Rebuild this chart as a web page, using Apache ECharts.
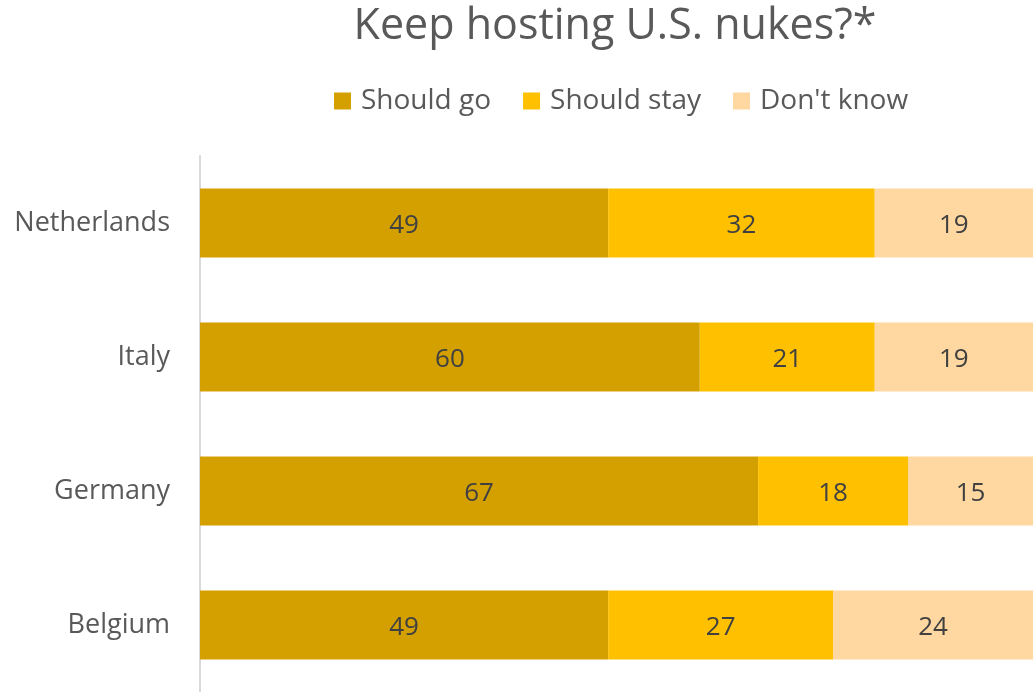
<!DOCTYPE html>
<html><head><meta charset="utf-8">
<script src="https://cdn.jsdelivr.net/npm/echarts@6/dist/echarts.min.js"></script>
<style>html,body{margin:0;padding:0;background:#fff}#c{width:1033px;height:692px}</style>
</head><body><div id="c"></div>
<script>
const categories = ['Netherlands', 'Italy', 'Germany', 'Belgium'];
const shouldGo = [49, 60, 67, 49];
const shouldStay = [32, 21, 18, 27];
const dontKnow = [19, 19, 15, 24];
const seriesNames = ['Should go', 'Should stay', "Don't know"];
const colors = ['#D4A000', '#FFC000', '#FFD7A0'];
const FONT = 'Open Sans';

const chart = echarts.init(document.getElementById('c'));
const mk = (name, data, color) => ({
  name, type: 'bar', stack: 'a', data, barWidth: 69,
  itemStyle: { color },
  label: { show: true, position: 'inside', offset: [0, 3], color: '#404040', fontSize: 26, fontFamily: FONT },
  emphasis: { disabled: true }
});
chart.setOption({
  animation: false,
  title: { text: 'Keep hosting U.S. nukes?*', left: 610, top: 0, textAlign: 'center',
    textStyle: { fontSize: 43, fontWeight: 'normal', color: '#595959', fontFamily: FONT } },
  legend: { top: 82, left: 329, itemWidth: 17, itemHeight: 17, itemGap: 32, icon: 'rect',
    textStyle: { fontSize: 28, color: '#595959', fontFamily: FONT, padding: [0, 0, 0, 5] }, selectedMode: false,
    data: seriesNames },
  grid: { left: 200, right: 0, top: 156, bottom: -4, containLabel: false },
  xAxis: { type: 'value', min: 0, max: 100, show: false },
  yAxis: { type: 'category', data: categories, inverse: true,
    axisLine: { show: true, lineStyle: { color: '#D9D9D9', width: 2 } },
    axisTick: { show: false },
    axisLabel: { fontSize: 27, color: '#595959', fontFamily: FONT, margin: 30, padding: [5, 0, 0, 0] } },
  series: [mk(seriesNames[0], shouldGo, colors[0]), mk(seriesNames[1], shouldStay, colors[1]), mk(seriesNames[2], dontKnow, colors[2])]
});
</script></body></html>
